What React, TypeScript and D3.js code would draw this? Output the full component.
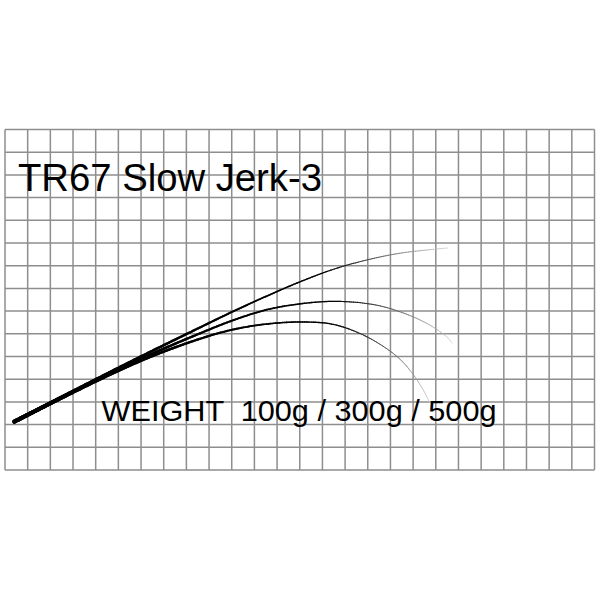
import { useEffect, useRef } from 'react'
import * as d3 from 'd3'

// grid in cell units
const GRID_COLS = 26
const GRID_ROWS = 15

const TITLE = 'TR67 Slow Jerk-3'
const WEIGHTS = ['100g', '300g', '500g']

// rod bend curves, [x, y] in grid cells (origin bottom-left)
const bend100: [number, number][] = [
  [0.41, 2.13], [4.19, 4.08], [6.40, 5.20], [8.60, 6.28], [10.07, 6.99],
  [11.54, 7.66], [13.01, 8.29], [14.48, 8.84], [15.95, 9.25], [17.42, 9.55],
  [18.89, 9.72], [19.54, 9.78],
]
const bend300: [number, number][] = [
  [0.41, 2.13], [4.19, 4.04], [6.40, 5.08], [8.60, 6.02], [10.07, 6.60],
  [11.54, 7.06], [13.01, 7.32], [14.60, 7.43], [16.24, 7.29],
  [17.42, 6.97], [18.60, 6.46], [19.48, 5.87], [19.72, 5.59],
]
const bend500: [number, number][] = [
  [0.41, 2.13], [4.19, 4.00], [6.40, 4.98], [8.60, 5.78], [10.07, 6.19],
  [11.54, 6.43], [13.01, 6.52], [14.40, 6.43], [15.60, 6.04], [16.60, 5.50],
  [17.40, 4.90], [17.95, 4.28], [18.45, 3.52], [18.74, 2.94],
]
const BENDS = [bend500, bend300, bend100]

const W = 600
const H = 600
const FONT = '"Liberation Sans", Arial, Helvetica, sans-serif'

export default function App() {
  const rodRef = useRef<SVGGElement>(null)

  const x = d3.scaleLinear().domain([0, GRID_COLS]).range([5, 594.5])
  const y = d3.scaleLinear().domain([0, GRID_ROWS]).range([470, 129.5])

  useEffect(() => {
    if (!rodRef.current) return
    const g = d3.select(rodRef.current)
    g.selectAll('*').remove()

    const line = d3.line<[number, number]>()
      .x(d => x(d[0]))
      .y(d => y(d[1]))
      .curve(d3.curveCatmullRom.alpha(0.5))

    BENDS.forEach(pts => {
      const tmp = g.append('path').attr('d', line(pts)!).attr('fill', 'none')
      const node = tmp.node() as SVGPathElement
      const len = node.getTotalLength()
      const N = 260
      const samples = d3.range(N + 1).map(i => node.getPointAtLength((len * i) / N))
      tmp.remove()

      // taper the rod: thick butt, thin faded tip
      for (let i = 0; i < N; i++) {
        const t = i / N
        const a = samples[i], b = samples[i + 1]
        const w = 0.6 + 3.4 * Math.pow(1 - t, 1.3)
        const fade = t < 0.72 ? 0 : (t - 0.72) / 0.28
        const col = d3.interpolateRgb('#000', '#cfcfcf')(Math.pow(fade, 1.1))
        g.append('line')
          .attr('x1', a.x).attr('y1', a.y)
          .attr('x2', b.x).attr('y2', b.y)
          .attr('stroke', col)
          .attr('stroke-width', w)
          .attr('stroke-linecap', 'round')
      }
    })
  }, [])

  const cols = d3.range(GRID_COLS + 1)
  const rows = d3.range(GRID_ROWS + 1)

  return (
    <svg width={W} height={H} style={{ position: 'absolute', left: 0, top: 0, background: '#fff' }}>
      <rect x={0} y={0} width={W} height={H} fill="#fff" />
      <g stroke="#8e8e8e" strokeWidth={1.5}>
        {cols.map(c => (
          <line key={'c' + c} x1={x(c)} x2={x(c)} y1={y(0)} y2={y(GRID_ROWS)} />
        ))}
        {rows.map(r => (
          <line key={'r' + r} x1={x(0)} x2={x(GRID_COLS)} y1={y(r)} y2={y(r)} />
        ))}
      </g>
      <text x={18} y={190.7} fontFamily={FONT} fontSize={38} fill="#000"
        textLength={304} lengthAdjust="spacingAndGlyphs">{TITLE}</text>
      <g ref={rodRef} />
      <text x={101.5} y={420.5} fontFamily={FONT} fontSize={30} fill="#000"
        textLength={395} lengthAdjust="spacingAndGlyphs" style={{ whiteSpace: 'pre' }}>
        {`WEIGHT  ${WEIGHTS.join(' / ')}`}
      </text>
    </svg>
  )
}
